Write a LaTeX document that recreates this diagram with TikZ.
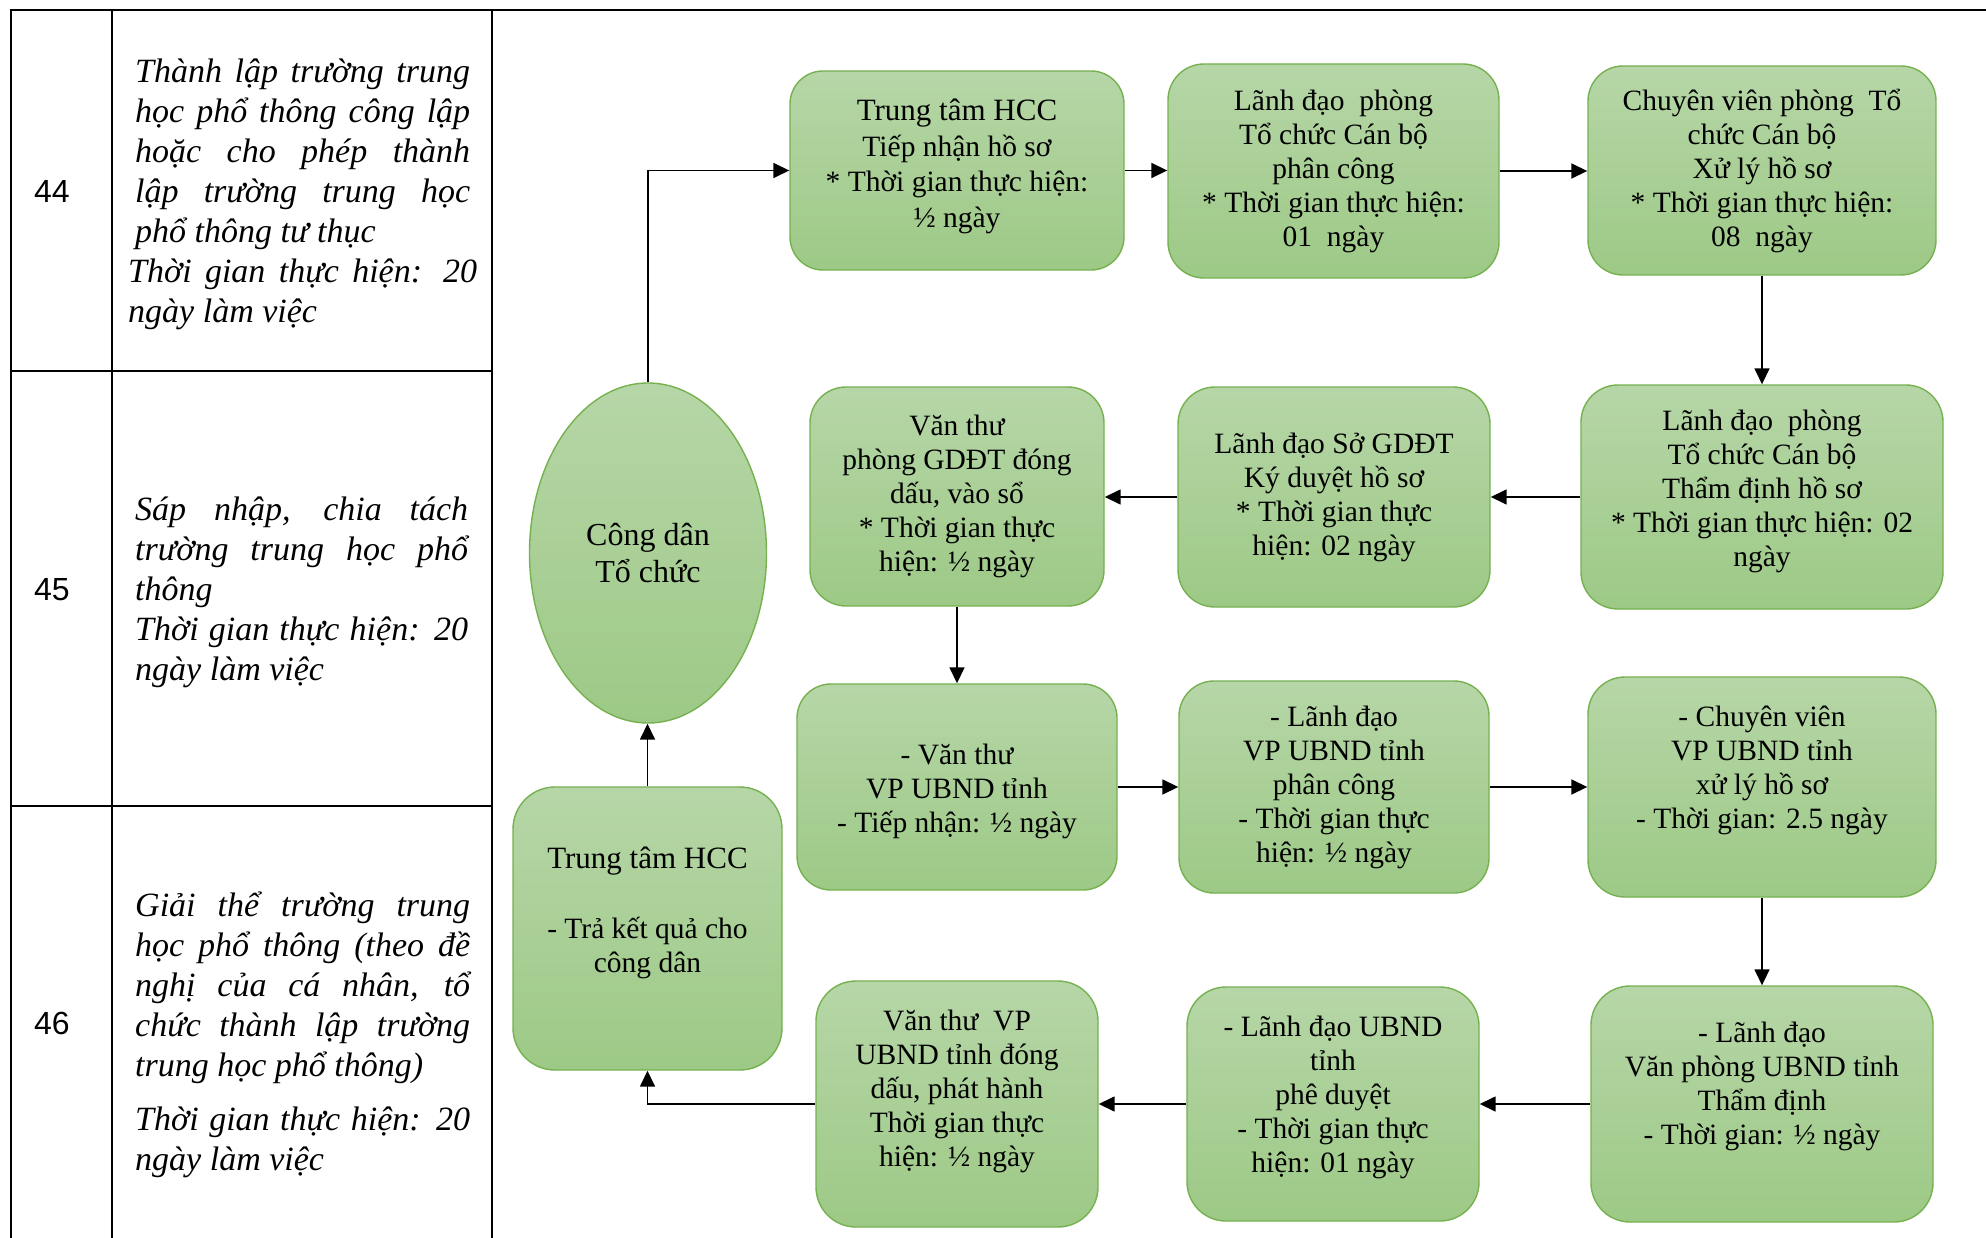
\documentclass[tikz,border=0pt]{standalone}
\usepackage{fontspec}
\setmainfont{Liberation Serif}
\newfontfamily\arialf{Liberation Sans}
\usetikzlibrary{arrows.meta,shapes.geometric}
\definecolor{gtop}{RGB}{182,214,167}
\definecolor{gbot}{RGB}{157,201,134}
\definecolor{gline}{RGB}{118,177,80}
\newcommand\xdp[1]{\rule[-#1]{0pt}{#1}}
\newcommand\boxfont{\fontsize{29.5}{34}\selectfont}
\newcommand\hccfont{\fontsize{31}{34}\selectfont}
\newcommand\tabfont{\fontsize{34}{40}\selectfont\itshape}
\newcommand\jl[2]{\makebox[#1][s]{#2}}
\tikzset{
  flowbox/.style={draw=gline, line width=1.4pt, top color=gtop, bottom color=gbot,
    rounded corners=#1, align=center, inner sep=0pt, font=\boxfont},
  flowbox/.default=35pt,
  arr/.style={draw=black, line width=1.6pt, -{Triangle[length=16pt,width=15pt]}},
  tabline/.style={draw=black, line width=2.8pt},
  tabtext/.style={inner sep=0pt, font=\tabfont, anchor=base west},
  numtext/.style={inner sep=0pt, font=\arialf\fontsize{32}{36}\selectfont, anchor=base}
}
\begin{document}
\begin{tikzpicture}[x=1pt,y=-1pt]
\useasboundingbox (0,0) rectangle (1986,1238);
% ---------- table ----------
\draw[tabline] (11,1245) -- (11,10) -- (1990,10);
\draw[tabline] (112,10) -- (112,1245);
\draw[tabline] (492,10) -- (492,1245);
\draw[tabline] (11,371) -- (492,371);
\draw[tabline] (11,806) -- (492,806);
\node[numtext] (n44) at (52,203) {44};
\node[numtext] (n45) at (52,600) {45};
\node[numtext] (n46) at (52,1034) {46};
\node[tabtext] (p44a) at (135,83) {\parbox[t]{335pt}{\jl{335pt}{Thành lập trường trung}\\\jl{335pt}{học phổ thông công lập}\\\jl{335pt}{hoặc cho phép thành}\\\jl{335pt}{lập trường trung học}\\phổ thông tư thục}};
\node[tabtext] (p44b) at (128,283) {\parbox[t]{349pt}{\jl{349pt}{Thời gian thực hiện: 20}\\ngày làm việc}};
\node[tabtext] (p45) at (135,520) {\parbox[t]{333pt}{\jl{333pt}{Sáp nhập, chia tách}\\\jl{333pt}{trường trung học phổ}\\thông\\\jl{333pt}{Thời gian thực hiện: 20}\\ngày làm việc}};
\node[tabtext] (p46a) at (135,916) {\parbox[t]{335pt}{\jl{335pt}{Giải thể trường trung}\\\jl{335pt}{học phổ thông (theo đề}\\\jl{335pt}{nghị của cá nhân, tổ}\\\jl{335pt}{chức thành lập trường}\\trung học phổ thông)}};
\node[tabtext] (p46b) at (135,1130) {\parbox[t]{335pt}{\jl{335pt}{Thời gian thực hiện: 20}\\ngày làm việc}};
% ---------- flow ----------
\node[flowbox, ellipse, minimum width=237pt, minimum height=340pt, font=\fontsize{32}{37}\selectfont] (ell) at (648,553) {Công dân\\Tổ chức};
\node[flowbox=33pt, minimum width=334pt, minimum height=199pt, font=\fontsize{29.5}{35.5}\selectfont] (A) at (957,170.5)
  {{\hccfont Trung tâm HCC}\\Tiếp nhận hồ sơ\\* Thời gian thực hiện:\\½ ngày\xdp{15pt}};
\node[flowbox=36pt, minimum width=331pt, minimum height=214pt] (B) at (1333.5,171)
  {Lãnh đạo\ \ phòng\\Tổ chức Cán bộ\\phân công\\* Thời gian thực hiện:\\01\ \ ngày};
\node[flowbox=35pt, minimum width=348pt, minimum height=209pt] (C) at (1762,170.5)
  {Chuyên viên phòng\ \ Tổ\\chức Cán bộ\\Xử lý hồ sơ\\* Thời gian thực hiện:\\08\ \ ngày};
\node[flowbox=37pt, minimum width=362pt, minimum height=224pt] (D) at (1762,497)
  {Lãnh đạo\ \ phòng\\Tổ chức Cán bộ\\Thẩm định hồ sơ\\* Thời gian thực hiện: 02\\ngày\xdp{17pt}};
\node[flowbox=37pt, minimum width=312pt, minimum height=220pt] (E) at (1334,497)
  {Lãnh đạo Sở GDĐT\\Ký duyệt hồ sơ\\* Thời gian thực\\hiện: 02 ngày};
\node[flowbox=36pt, minimum width=294pt, minimum height=219pt] (F) at (957,496.5)
  {Văn thư\\phòng GDĐT đóng\\dấu, vào sổ\\* Thời gian thực\\hiện: ½ ngày};
\node[flowbox=34pt, minimum width=320pt, minimum height=206pt] (G) at (957,787)
  {\rule{0pt}{30pt}- Văn thư\\VP UBND tỉnh\\- Tiếp nhận: ½ ngày};
\node[flowbox=35pt, minimum width=310pt, minimum height=212pt] (H) at (1334,787)
  {- Lãnh đạo\\VP UBND tỉnh\\phân công\\- Thời gian thực\\hiện: ½ ngày};
\node[flowbox=37pt, minimum width=348pt, minimum height=220pt] (I) at (1762,787)
  {- Chuyên viên\\VP UBND tỉnh\\xử lý hồ sơ\\- Thời gian: 2.5 ngày\xdp{40pt}};
\node[flowbox=39pt, minimum width=342pt, minimum height=236pt] (J) at (1762,1104)
  {- Lãnh đạo\\Văn phòng UBND tỉnh\\Thẩm định\\- Thời gian: ½ ngày\xdp{41pt}};
\node[flowbox=39pt, minimum width=292pt, minimum height=234pt] (K) at (1333,1104)
  {- Lãnh đạo UBND\\tỉnh\\phê duyệt\\- Thời gian thực\\hiện: 01 ngày\xdp{19pt}};
\node[flowbox=40pt, minimum width=282pt, minimum height=246pt] (L) at (957,1104)
  {Văn thư\ \ VP\\UBND tỉnh đóng\\dấu, phát hành\\Thời gian thực\\hiện: ½ ngày\xdp{31pt}};
\node[flowbox=42pt, minimum width=269pt, minimum height=283pt] (M) at (647.5,928.5)
  {{\hccfont Trung tâm HCC}\\[2pt]\mbox{}\\- Trả kết quả cho\\công dân\xdp{38pt}};
% ---------- connectors ----------
\draw[arr] (ell.north) |- (A.west);
\draw[arr] (A.east) -- (A.east -| B.west);
\draw[arr] (B.east) -- (B.east -| C.west);
\draw[arr] (C.south) -- (C.south |- D.north);
\draw[arr] (D.west) -- (D.west -| E.east);
\draw[arr] (E.west) -- (E.west -| F.east);
\draw[arr] (F.south) -- (F.south |- G.north);
\draw[arr] (G.east) -- (G.east -| H.west);
\draw[arr] (H.east) -- (H.east -| I.west);
\draw[arr] (I.south) -- (I.south |- J.north);
\draw[arr] (J.west) -- (J.west -| K.east);
\draw[arr] (K.west) -- (K.west -| L.east);
\draw[arr] (L.west) -| (M.south);
\draw[arr] (M.north) -- (M.north |- ell.south);
\end{tikzpicture}
\end{document}
